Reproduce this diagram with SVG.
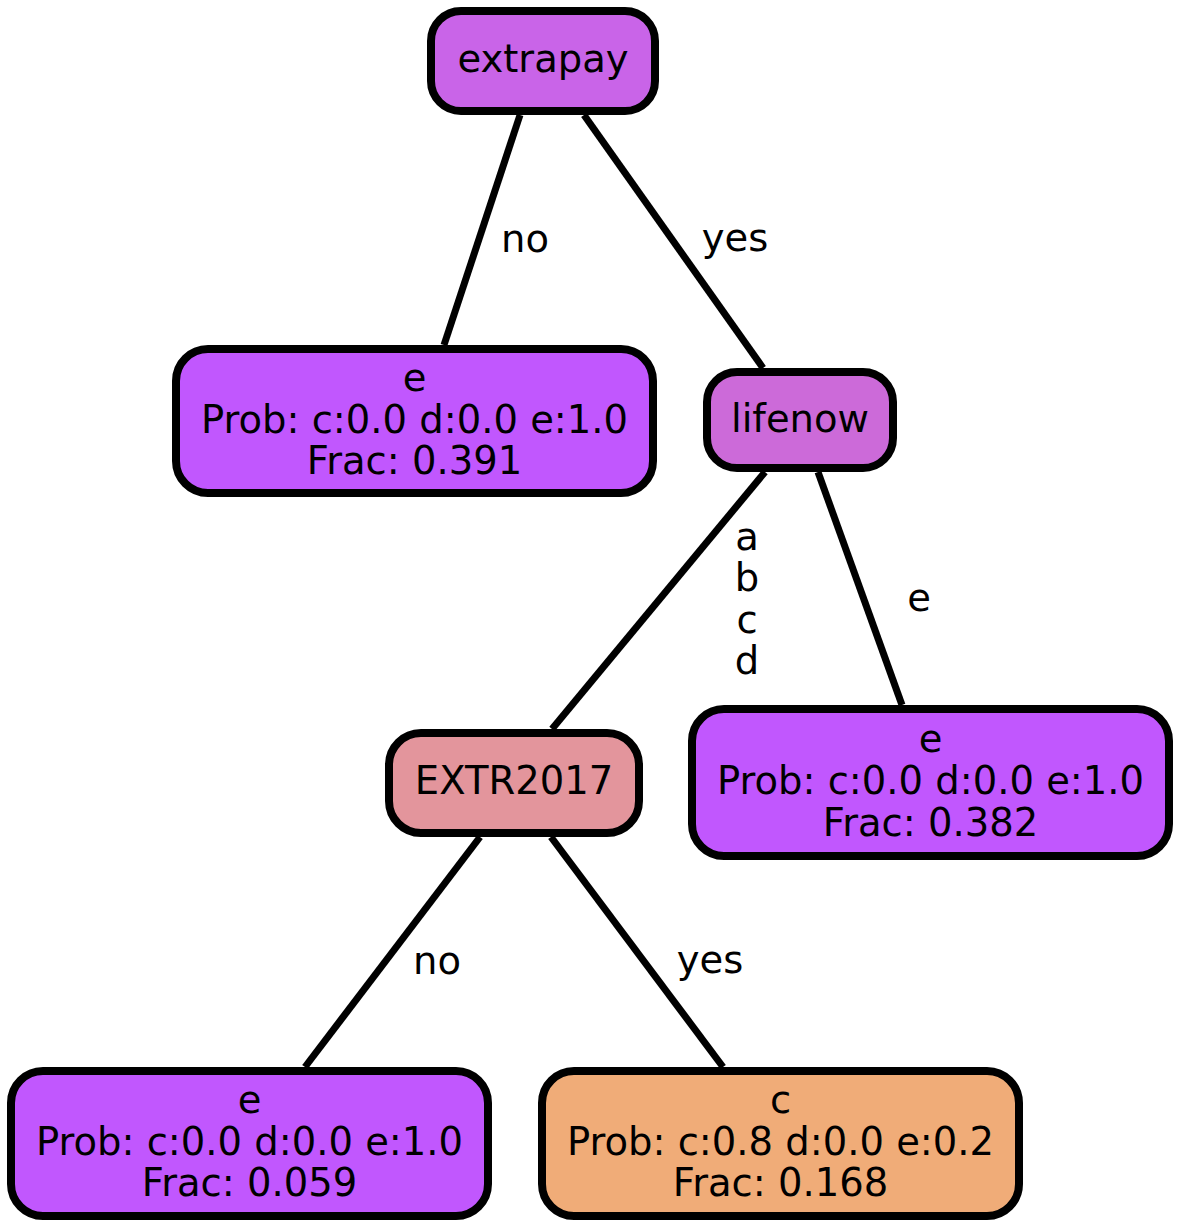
<svg xmlns="http://www.w3.org/2000/svg" width="1181" height="1231" viewBox="0 0 1181 1231">
<style>
.n{stroke:#000;stroke-width:8}
text{font-family:"DejaVu Sans",sans-serif;font-size:38.5px;fill:#000;text-anchor:middle}
.e{stroke:#000;stroke-width:7;fill:none}
</style>
<rect width="1181" height="1231" fill="#fff"/>
<g id="edges">
<line class="e" x1="520" y1="115" x2="444" y2="345"/>
<line class="e" x1="584" y1="115" x2="763" y2="368"/>
<line class="e" x1="765" y1="472" x2="552" y2="729"/>
<line class="e" x1="818" y1="472" x2="902" y2="705"/>
<line class="e" x1="480" y1="837" x2="305" y2="1067"/>
<line class="e" x1="551" y1="837" x2="723" y2="1067"/>
<text x="525" y="252">no</text>
<text x="735" y="251">yes</text>
<text x="747" y="550">a</text>
<text x="747" y="591">b</text>
<text x="747" y="633">c</text>
<text x="747" y="674">d</text>
<text x="919" y="611">e</text>
<text x="437" y="974">no</text>
<text x="710" y="973">yes</text>
</g>
<g id="extrapay">
<rect class="n" x="431" y="11" width="224" height="100" rx="30" fill="#c964e8"/>
<text x="543" y="72">extrapay</text>
</g>
<g id="leaf1">
<rect class="n" x="176" y="349" width="477" height="144" rx="32" fill="#c157fe"/>
<text x="414.5" y="391">e</text>
<text x="414.5" y="433">Prob: c:0.0 d:0.0 e:1.0</text>
<text x="414.5" y="474">Frac: 0.391</text>
</g>
<g id="lifenow">
<rect class="n" x="707" y="372" width="186" height="96" rx="30" fill="#cc6ad9"/>
<text x="800" y="432">lifenow</text>
</g>
<g id="EXTR2017">
<rect class="n" x="389" y="733" width="250" height="100" rx="32" fill="#e3959c"/>
<text x="514" y="794">EXTR2017</text>
</g>
<g id="leaf2">
<rect class="n" x="692" y="709" width="477" height="147" rx="32" fill="#c157fe"/>
<text x="930.5" y="752">e</text>
<text x="930.5" y="794">Prob: c:0.0 d:0.0 e:1.0</text>
<text x="930.5" y="836">Frac: 0.382</text>
</g>
<g id="leaf3">
<rect class="n" x="11" y="1071" width="477" height="145" rx="32" fill="#c157fe"/>
<text x="249.5" y="1113">e</text>
<text x="249.5" y="1155">Prob: c:0.0 d:0.0 e:1.0</text>
<text x="249.5" y="1196">Frac: 0.059</text>
</g>
<g id="leaf4">
<rect class="n" x="542" y="1071" width="477" height="145" rx="32" fill="#f0ac78"/>
<text x="780.5" y="1113">c</text>
<text x="780.5" y="1155">Prob: c:0.8 d:0.0 e:0.2</text>
<text x="780.5" y="1196">Frac: 0.168</text>
</g>
</svg>
